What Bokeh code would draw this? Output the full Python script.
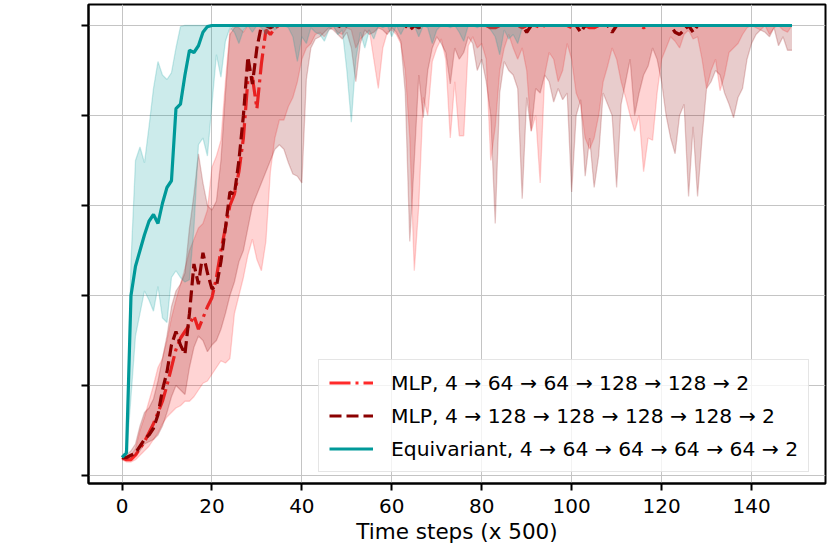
from bokeh.plotting import figure
from bokeh.models import Range1d, FixedTicker, Legend, LegendItem
from bokeh.embed import file_html
from bokeh.resources import INLINE

# ---------------- data ----------------
steps = list(range(150))
x_ticks = [0, 20, 40, 60, 80, 100, 120, 140]
y_ticks = [0, 40, 80, 120, 160, 200]

labels = [
    "MLP, 4 \u2192 64 \u2192 64 \u2192 128 \u2192 128 \u2192 2",
    "MLP, 4 \u2192 128 \u2192 128 \u2192 128 \u2192 128 \u2192 2",
    "Equivariant, 4 \u2192 64 \u2192 64 \u2192 64 \u2192 64 \u2192 2",
]

eq_mean = [
    8, 10, 80, 93, 100, 107, 113, 116, 112, 121,
    128, 131, 163, 165, 178, 189, 188, 191, 197, 199.5,
    200, 200, 200, 200, 200, 200, 200, 200, 200, 200,
    200, 200, 200, 200, 200, 200, 200, 200, 200, 200,
    200, 200, 200, 200, 200, 200, 200, 200, 200, 200,
    200, 200, 200, 200, 200, 200, 200, 200, 200, 200,
    200, 200, 200, 200, 200, 200, 200, 200, 200, 200,
    200, 200, 200, 200, 200, 200, 200, 200, 200, 200,
    200, 200, 200, 200, 200, 200, 200, 200, 200, 200,
    200, 200, 200, 200, 200, 200, 200, 200, 200, 200,
    200, 200, 200, 200, 200, 200, 200, 200, 200, 200,
    200, 200, 200, 200, 200, 200, 200, 200, 200, 200,
    200, 200, 200, 200, 200, 200, 200, 200, 200, 200,
    200, 200, 200, 200, 200, 200, 200, 200, 200, 200,
    200, 200, 200, 200, 200, 200, 200, 200, 200, 200,
]
eq_lo = [
    8, 9, 35, 62, 72, 82, 78, 73, 84, 70,
    68, 88, 91, 88, 86, 87, 110, 147, 150, 142,
    165, 187, 177, 193, 199, 197, 192, 198, 200, 197,
    200, 199, 196, 200, 198, 200, 200, 199, 195, 184,
    195, 192, 199, 197, 196, 193, 198, 200, 196, 198,
    180, 157, 185, 197, 190, 198, 194, 200, 199, 200,
    195, 200, 196, 200, 199, 200, 195, 200, 199, 192,
    198, 200, 200, 199, 200, 197, 193, 200, 200, 199,
    200, 200, 198, 195, 187, 198, 194, 196, 192, 199,
    200, 200, 200, 200, 200, 200, 200, 200, 200, 200,
    200, 200, 200, 200, 200, 200, 200, 200, 200, 200,
    200, 200, 200, 200, 200, 200, 200, 200, 200, 200,
    200, 200, 200, 200, 200, 200, 200, 200, 200, 200,
    200, 200, 200, 200, 200, 200, 200, 200, 200, 200,
    200, 200, 200, 200, 200, 200, 200, 200, 200, 200,
]
eq_hi = [
    8, 12, 95, 140, 146, 139, 155, 172, 184, 178,
    176, 179, 190, 199.5, 200, 200, 200, 200, 200, 200,
    200, 200, 200, 200, 200, 200, 200, 200, 200, 200,
    200, 200, 200, 200, 200, 200, 200, 200, 200, 200,
    200, 200, 200, 200, 200, 200, 200, 200, 200, 200,
    200, 200, 200, 200, 200, 200, 200, 200, 200, 200,
    200, 200, 200, 200, 200, 200, 200, 200, 200, 200,
    200, 200, 200, 200, 200, 200, 200, 200, 200, 200,
    200, 200, 200, 200, 200, 200, 200, 200, 200, 200,
    200, 200, 200, 200, 200, 200, 200, 200, 200, 200,
    200, 200, 200, 200, 200, 200, 200, 200, 200, 200,
    200, 200, 200, 200, 200, 200, 200, 200, 200, 200,
    200, 200, 200, 200, 200, 200, 200, 200, 200, 200,
    200, 200, 200, 200, 200, 200, 200, 200, 200, 200,
    200, 200, 200, 200, 200, 200, 200, 200, 200, 200,
]

mlp1_mean = [
    8, 7, 7, 9, 12, 15, 19, 23, 28, 33,
    40, 48, 56, 61, 64, 67, 71, 65, 70, 75,
    79, 88, 100, 110, 120, 125, 135, 150, 176, 177,
    163, 183, 198, 196, 199, 200, 200, 200, 200, 200,
    200, 200, 200, 200, 200, 200, 200, 200, 200, 200,
    200, 200, 200, 200, 200, 200, 200, 200, 200, 200,
    200, 200, 200, 200, 199, 199, 200, 200, 200, 200,
    200, 200, 200, 200, 200, 200, 200, 200, 200, 200,
    200, 200, 199, 199, 200, 200, 200, 200, 200, 199,
    200, 200, 200, 199, 200, 200, 200, 200, 200, 200,
    199, 200, 200, 200, 199, 199, 200, 200, 200, 200,
    200, 200, 200, 200, 200, 200, 199, 200, 200, 200,
    200, 200, 200, 200, 200, 200, 200, 200, 200, 200,
    200, 200, 200, 200, 200, 200, 200, 200, 200, 200,
    200, 200, 200, 200, 200, 200, 200, 200, 200, 200,
]
mlp1_lo = [
    7, 6, 6, 7, 9, 11, 13, 16, 19, 23,
    26, 28, 30, 31, 33, 33, 35, 38, 41, 42,
    45, 48, 51, 50, 52, 72, 80, 88, 98, 105,
    96, 91, 104, 135, 150, 158, 158, 164, 168, 175,
    185, 190, 192, 196, 197, 195, 198, 199, 197, 196,
    199, 198, 190, 194, 196, 198, 185, 172, 190, 197,
    198, 196, 192, 180, 150, 91, 120, 168, 160, 184,
    190, 194, 185, 150, 175, 151, 151, 191, 195, 190,
    192, 185, 140, 155, 180, 190, 196, 190, 185, 190,
    180, 153, 160, 130, 178, 188, 185, 175, 180, 192,
    185, 170, 165, 150, 145, 150, 160, 175, 182, 190,
    185, 175, 168, 160, 153, 160, 135, 150, 149, 170,
    185, 190, 195, 193, 190, 196, 198, 194, 195, 185,
    172, 180, 185, 171, 178, 188, 190, 192, 196, 199,
    200, 199, 198, 200, 196, 199, 200, 198, 197, 200,
]
mlp1_hi = [
    8, 8, 9, 12, 20, 26, 33, 40, 48, 52,
    60, 70, 78, 85, 92, 100, 105, 110, 112, 118,
    137, 142, 149, 175, 198, 200, 199, 197, 200, 200,
    200, 200, 200, 200, 200, 200, 200, 200, 200, 200,
    200, 200, 200, 200, 200, 200, 200, 200, 200, 200,
    200, 200, 200, 200, 200, 200, 200, 200, 200, 200,
    200, 200, 200, 200, 200, 200, 200, 200, 200, 200,
    200, 200, 200, 200, 200, 200, 200, 200, 200, 200,
    200, 200, 200, 200, 200, 200, 200, 200, 200, 200,
    200, 200, 200, 200, 200, 200, 200, 200, 200, 200,
    200, 200, 200, 200, 200, 200, 200, 200, 200, 200,
    200, 200, 200, 200, 200, 200, 200, 200, 200, 200,
    200, 200, 200, 200, 200, 200, 200, 200, 200, 200,
    200, 200, 200, 200, 200, 200, 200, 200, 200, 200,
    200, 200, 200, 200, 200, 200, 200, 200, 200, 200,
]

mlp2_mean = [
    8, 8, 9, 10, 13, 16, 18, 21, 27, 38,
    46, 58, 64, 58, 54, 72, 94, 85, 99, 90,
    83, 84, 95, 110, 126, 125, 140, 160, 186, 174,
    190, 200, 200, 199, 200, 200, 200, 200, 200, 200,
    200, 200, 200, 200, 200, 200, 200, 200, 200, 199,
    200, 200, 200, 200, 200, 200, 200, 200, 200, 200,
    200, 200, 200, 200, 198, 200, 199, 200, 200, 200,
    200, 200, 200, 200, 200, 200, 200, 200, 200, 200,
    200, 200, 200, 200, 200, 200, 200, 200, 200, 200,
    197, 200, 200, 200, 200, 200, 200, 200, 200, 200,
    200, 200, 197, 200, 200, 200, 200, 200, 200, 197,
    200, 200, 200, 200, 200, 200, 200, 200, 200, 200,
    200, 200, 200, 197, 196, 198, 200, 197, 200, 200,
    200, 200, 200, 200, 200, 200, 200, 200, 200, 200,
    200, 200, 200, 200, 200, 200, 200, 200, 200, 200,
]
mlp2_lo = [
    7, 7, 8, 9, 11, 14, 15, 16, 18, 22,
    28, 35, 40, 38, 36, 48, 57, 62, 60, 55,
    58, 60, 65, 72, 80, 86, 95, 100, 110, 120,
    125, 130, 135, 140, 145, 147, 145, 139, 134, 133,
    130, 176, 190, 194, 195, 197, 199, 198, 196, 194,
    197, 190, 175, 192, 198, 196, 197, 199, 198, 196,
    199, 197, 193, 170, 104, 140, 178, 159, 180, 190,
    195, 192, 188, 174, 190, 185, 188, 195, 192, 180,
    185, 175, 160, 112, 170, 184, 180, 178, 172, 123,
    168, 153, 172, 170, 178, 175, 166, 172, 167, 170,
    126, 160, 167, 133, 150, 128, 142, 170, 165, 160,
    128, 165, 175, 185, 160, 170, 178, 182, 190, 185,
    175, 160, 150, 143, 160, 165, 124, 155, 124, 150,
    172, 175, 180, 178, 170, 165, 159, 168, 172, 185,
    192, 196, 198, 197, 195, 199, 191, 195, 189, 189,
]
mlp2_hi = [
    8, 9, 11, 14, 22, 28, 30, 34, 42, 52,
    62, 75, 82, 85, 90, 110, 125, 143, 130, 120,
    118, 122, 140, 170, 196, 199, 200, 200, 200, 200,
    200, 200, 200, 200, 200, 200, 200, 200, 200, 200,
    200, 200, 200, 200, 200, 200, 200, 200, 200, 200,
    200, 200, 200, 200, 200, 200, 200, 200, 200, 200,
    200, 200, 200, 200, 200, 200, 200, 200, 200, 200,
    200, 200, 200, 200, 200, 200, 200, 200, 200, 200,
    200, 200, 200, 200, 200, 200, 200, 200, 200, 200,
    200, 200, 200, 200, 200, 200, 200, 200, 200, 200,
    200, 200, 200, 200, 200, 200, 200, 200, 200, 200,
    200, 200, 200, 200, 200, 200, 200, 200, 200, 200,
    200, 200, 200, 200, 200, 200, 200, 200, 200, 200,
    200, 200, 200, 200, 200, 200, 200, 200, 200, 200,
    200, 200, 200, 200, 200, 200, 200, 200, 200, 200,
]

# ---------------- styles ----------------
C_MLP1 = "#ff2a2a"
C_MLP2 = "#8b0000"
C_EQ = "#009999"
FONT = "DejaVu Sans"

p = figure(
    width=830, height=552,
    x_range=Range1d(-7.45, 156.45), y_range=Range1d(-3.56, 209.33),
    output_backend="svg", toolbar_location=None,
    min_border_left=88, min_border_right=5, min_border_top=4, min_border_bottom=69,
)
p.background_fill_color = "white"
p.border_fill_color = "white"
p.outline_line_color = "black"
p.outline_line_width = 2

for ax in (p.xaxis[0], p.yaxis[0]):
    ax.axis_line_width = 2
    ax.axis_line_color = "black"
    ax.major_tick_line_width = 2
    ax.major_tick_line_color = "black"
    ax.major_tick_out = 7
    ax.major_tick_in = 0
    ax.minor_tick_line_color = None
    ax.major_label_text_font = FONT
    ax.major_label_text_font_size = "20px"
    ax.major_label_text_color = "black"

p.xaxis.ticker = FixedTicker(ticks=x_ticks)
p.yaxis.ticker = FixedTicker(ticks=y_ticks)
p.yaxis.major_label_overrides = {t: "" for t in y_ticks}
p.xaxis.major_label_standoff = 8
p.xaxis.axis_label = "Time steps (x 500)"
p.xaxis.axis_label_text_font = FONT
p.xaxis.axis_label_text_font_size = "21.5px"
p.xaxis.axis_label_text_font_style = "normal"
p.xaxis.axis_label_text_color = "black"
p.xaxis.axis_label_standoff = 3

p.xgrid.grid_line_color = "#c4c4c4"
p.ygrid.grid_line_color = "#c4c4c4"
p.xgrid.grid_line_width = 1
p.ygrid.grid_line_width = 1

series = [
    (mlp1_mean, mlp1_lo, mlp1_hi, C_MLP1, "21 5 3 5"),
    (mlp2_mean, mlp2_lo, mlp2_hi, C_MLP2, "12 5"),
    (eq_mean, eq_lo, eq_hi, C_EQ, "solid"),
]

items = []
for (mean, lo, hi, col, dash), lab in zip(series, labels):
    p.varea(x=steps, y1=lo, y2=hi, fill_color=col, fill_alpha=0.2)
    p.line(x=steps, y=lo, line_color=col, line_alpha=0.2, line_width=1.3)
    p.line(x=steps, y=hi, line_color=col, line_alpha=0.2, line_width=1.3)
    r = p.line(x=steps, y=mean, line_color=col, line_width=3.2, line_dash=dash)
    items.append(LegendItem(label=lab, renderers=[r]))

legend = Legend(
    items=items, location=(230, 11),
    label_text_font=FONT, label_text_font_size="20.3px", label_text_color="black",
    glyph_width=44, glyph_height=25, label_height=25, label_standoff=18,
    spacing=8, padding=10, margin=0,
    border_line_color="#cccccc", border_line_width=1.3,
    background_fill_color="white", background_fill_alpha=0.8,
)
p.add_layout(legend)

open("out.html", "w").write(file_html(p, INLINE))
